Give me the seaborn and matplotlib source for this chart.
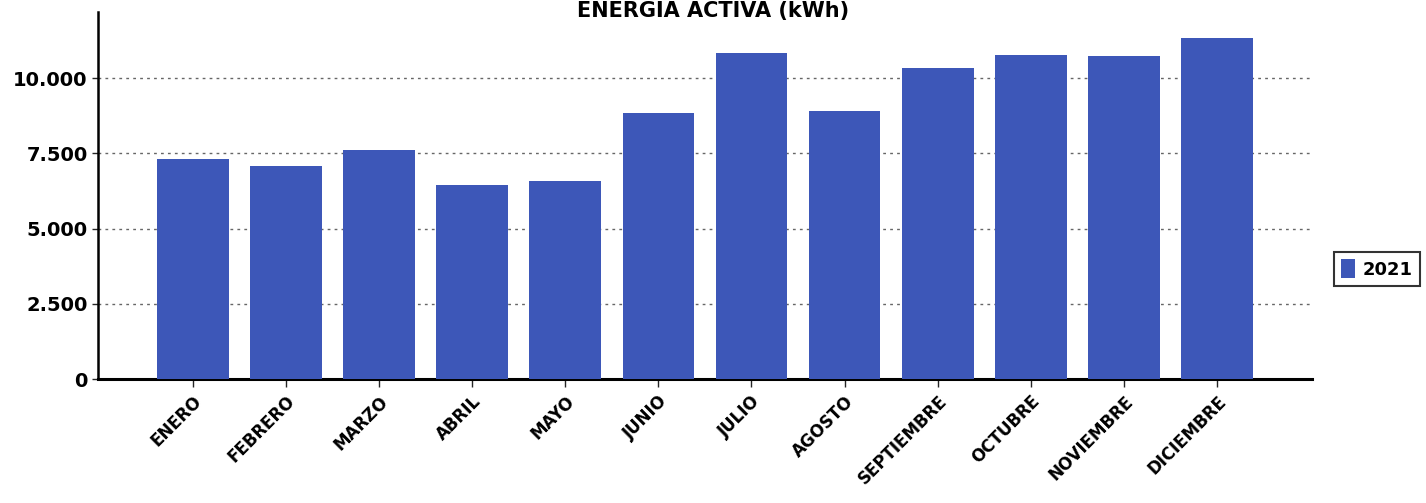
import matplotlib
matplotlib.use("Agg")
from matplotlib import pyplot as plt
from matplotlib.ticker import FuncFormatter
import seaborn as sns
import pandas as pd

meses = ["ENERO", "FEBRERO", "MARZO", "ABRIL", "MAYO", "JUNIO", "JULIO",
         "AGOSTO", "SEPTIEMBRE", "OCTUBRE", "NOVIEMBRE", "DICIEMBRE"]
energia_2021 = [7300, 7080, 7610, 6440, 6580, 8840, 10830, 8900, 10330, 10760, 10730, 11330]
serie = "2021"
color_barra = "#3d57b8"

df = pd.DataFrame({"mes": meses, "kwh": energia_2021, "serie": serie})

sns.set_style("white")
plt.rcParams["font.family"] = ["DejaVu Sans"]

fig = plt.figure(figsize=(14.26, 5.03), dpi=100)
ax = fig.add_axes([0.0687, 0.2465, 0.8513, 0.7295])

sns.barplot(data=df, x="mes", y="kwh", hue="serie", palette=[color_barra],
            width=0.77, ax=ax, zorder=3, saturation=1, linewidth=0)

ax.set_xlim(-1.02, 12.02)
ax.set_ylim(0, 12200)
ax.set_yticks([0, 2500, 5000, 7500, 10000])
ax.yaxis.set_major_formatter(FuncFormatter(lambda v, p: f"{int(v):,}".replace(",", ".")))
ax.grid(axis="y", color="#666666", linestyle=(0, (2, 3)), linewidth=1.0, zorder=0)
ax.set_axisbelow(True)

for s in ["top", "right"]:
    ax.spines[s].set_visible(False)
ax.spines["left"].set_linewidth(1.8)
ax.spines["bottom"].set_linewidth(2.2)
ax.spines["left"].set_color("black")
ax.spines["bottom"].set_color("black")

ax.tick_params(axis="y", length=4, width=1, labelsize=14, left=True, labelcolor="black")
ax.tick_params(axis="x", length=6, width=1, bottom=True, labelcolor="black")
for lab in ax.get_yticklabels():
    lab.set_fontweight("bold")
ax.set_xticks(range(len(meses)))
ax.set_xticklabels(meses, rotation=45, ha="right", rotation_mode="anchor",
                   fontweight="bold", fontsize=12)
ax.set_xlabel("")
ax.set_ylabel("")

leg = ax.legend(loc="center left", bbox_to_anchor=(1.018, 0.30), frameon=True,
                fancybox=False, edgecolor="black", fontsize=13, handlelength=0.8,
                handleheight=1.2, borderpad=0.4, handletextpad=0.4,
                borderaxespad=0)
leg.get_frame().set_linewidth(1.5)
for t in leg.get_texts():
    t.set_fontweight("bold")
    t.set_color("black")

fig.text(0.5, 0.998, "ENERGIA ACTIVA (kWh)", ha="center", va="top",
         fontsize=15, fontweight="bold", color="black")

fig.savefig("out.png", dpi=100)
